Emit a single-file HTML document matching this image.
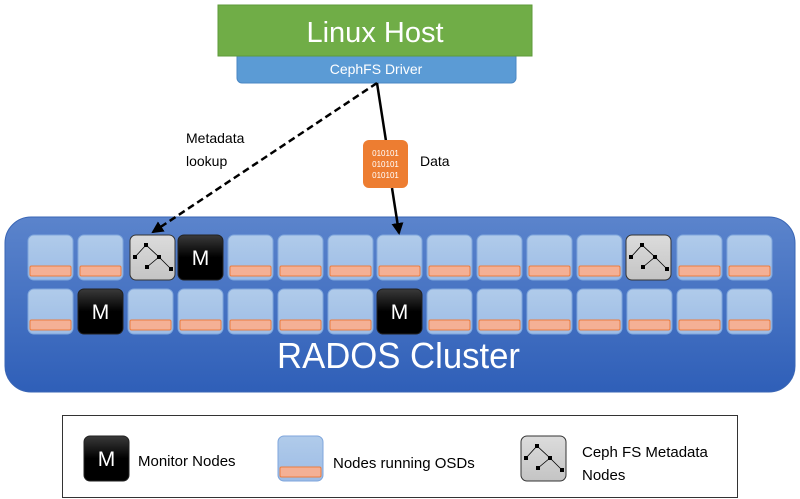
<!DOCTYPE html>
<html><head><meta charset="utf-8"><style>
html,body{margin:0;padding:0;background:#fff;}
svg{display:block;font-family:"Liberation Sans","DejaVu Sans",sans-serif;}
</style></head><body>
<svg width="800" height="499" viewBox="0 0 800 499" xmlns="http://www.w3.org/2000/svg">
<defs>
<linearGradient id="cl" x1="0" y1="0" x2="0" y2="1"><stop offset="0" stop-color="#5b84cc"/><stop offset="1" stop-color="#2f5fb8"/></linearGradient>
<linearGradient id="tileG" x1="0" y1="0" x2="0" y2="1"><stop offset="0" stop-color="#b0cbea"/><stop offset="1" stop-color="#9dbce6"/></linearGradient>
<linearGradient id="monG" x1="0" y1="0" x2="0" y2="1"><stop offset="0" stop-color="#3a3a3a"/><stop offset="0.5" stop-color="#000"/><stop offset="1" stop-color="#000"/></linearGradient>
<linearGradient id="mdG" x1="0" y1="0" x2="0" y2="1"><stop offset="0" stop-color="#dcdcdc"/><stop offset="1" stop-color="#c4c4c4"/></linearGradient>
<marker id="ah" markerWidth="12" markerHeight="12" refX="10" refY="6" orient="auto" markerUnits="userSpaceOnUse"><path d="M0,0 L12,6 L0,12 z" fill="#000"/></marker>
<g id="osd"><rect x="0" y="0" width="45" height="45" rx="6" fill="url(#tileG)" stroke="#7fa6dc" stroke-width="1"/><rect x="2" y="31" width="41" height="10" rx="1.5" fill="#f4b095" stroke="#ec7d3e" stroke-width="1"/></g>
<g id="mon"><rect x="0" y="0" width="45" height="45" rx="6" fill="url(#monG)" stroke="#222"/><text x="22.5" y="30" font-size="21" fill="#fff" text-anchor="middle">M</text></g>
<g id="meta"><rect x="0" y="0" width="45" height="45" rx="6" fill="url(#mdG)" stroke="#333"/>
<path d="M5,22 L16,10 L29,22 L17,32 M29,22 L41,34" stroke="#000" stroke-width="0.8" fill="none"/>
<rect x="14" y="8" width="4" height="4"/><rect x="3" y="20" width="4" height="4"/><rect x="27" y="20" width="4" height="4"/><rect x="15" y="30" width="4" height="4"/><rect x="39" y="32" width="4" height="4"/></g>
</defs>

<!-- Host -->
<rect x="237" y="45" width="279" height="38" rx="5" fill="#5b9bd5" stroke="#4a87c4"/>
<rect x="218" y="5" width="314" height="51" fill="#70ad47" stroke="#5e9a3a"/>
<text x="375" y="42" font-size="29" fill="#fff" text-anchor="middle">Linux Host</text>
<text x="376" y="74" font-size="14" fill="#fff" text-anchor="middle">CephFS Driver</text>

<!-- cluster -->
<rect x="5" y="217" width="790" height="175" rx="26" fill="url(#cl)" stroke="#3a66b5"/>
<use href="#osd" x="28" y="235"/><use href="#osd" x="78" y="235"/><use href="#meta" x="130" y="235"/><use href="#mon" x="178" y="235"/>
<use href="#osd" x="228" y="235"/><use href="#osd" x="278" y="235"/><use href="#osd" x="328" y="235"/><use href="#osd" x="377" y="235"/>
<use href="#osd" x="427" y="235"/><use href="#osd" x="477" y="235"/><use href="#osd" x="527" y="235"/><use href="#osd" x="577" y="235"/>
<use href="#meta" x="626" y="235"/><use href="#osd" x="677" y="235"/><use href="#osd" x="727" y="235"/>
<use href="#osd" x="28" y="289"/><use href="#mon" x="78" y="289"/><use href="#osd" x="128" y="289"/><use href="#osd" x="178" y="289"/>
<use href="#osd" x="228" y="289"/><use href="#osd" x="278" y="289"/><use href="#osd" x="328" y="289"/><use href="#mon" x="377" y="289"/>
<use href="#osd" x="427" y="289"/><use href="#osd" x="477" y="289"/><use href="#osd" x="527" y="289"/><use href="#osd" x="577" y="289"/>
<use href="#osd" x="627" y="289"/><use href="#osd" x="677" y="289"/><use href="#osd" x="727" y="289"/>
<text x="277" y="368" font-size="36" fill="#fff" textLength="243" lengthAdjust="spacingAndGlyphs">RADOS Cluster</text>

<!-- arrows -->
<line x1="377" y1="83" x2="153" y2="232" stroke="#000" stroke-width="2.5" stroke-dasharray="7,4" marker-end="url(#ah)"/>
<line x1="377" y1="83" x2="386" y2="141" stroke="#000" stroke-width="2.5"/>
<line x1="392" y1="188" x2="399" y2="233" stroke="#000" stroke-width="2.5" marker-end="url(#ah)"/>
<text x="186" y="143" font-size="14" fill="#000">Metadata</text>
<text x="186" y="166" font-size="14" fill="#000">lookup</text>
<text x="420" y="166" font-size="14" fill="#000">Data</text>
<rect x="363" y="140" width="45" height="48" rx="6" fill="#ed7d31"/>
<g font-size="8" fill="#fff" text-anchor="middle"><text x="385.5" y="156">010101</text><text x="385.5" y="167">010101</text><text x="385.5" y="178">010101</text></g>

<!-- legend -->
<rect x="62.5" y="415.5" width="675" height="82" fill="#fff" stroke="#333"/>
<use href="#mon" x="84" y="436"/>
<text x="138" y="466" font-size="15" fill="#000">Monitor Nodes</text>
<use href="#osd" x="278" y="436"/>
<text x="333" y="468" font-size="15" fill="#000">Nodes running OSDs</text>
<use href="#meta" x="521" y="436"/>
<text x="582" y="457" font-size="15" fill="#000">Ceph FS Metadata</text>
<text x="582" y="480" font-size="15" fill="#000">Nodes</text>
</svg>
</body></html>
